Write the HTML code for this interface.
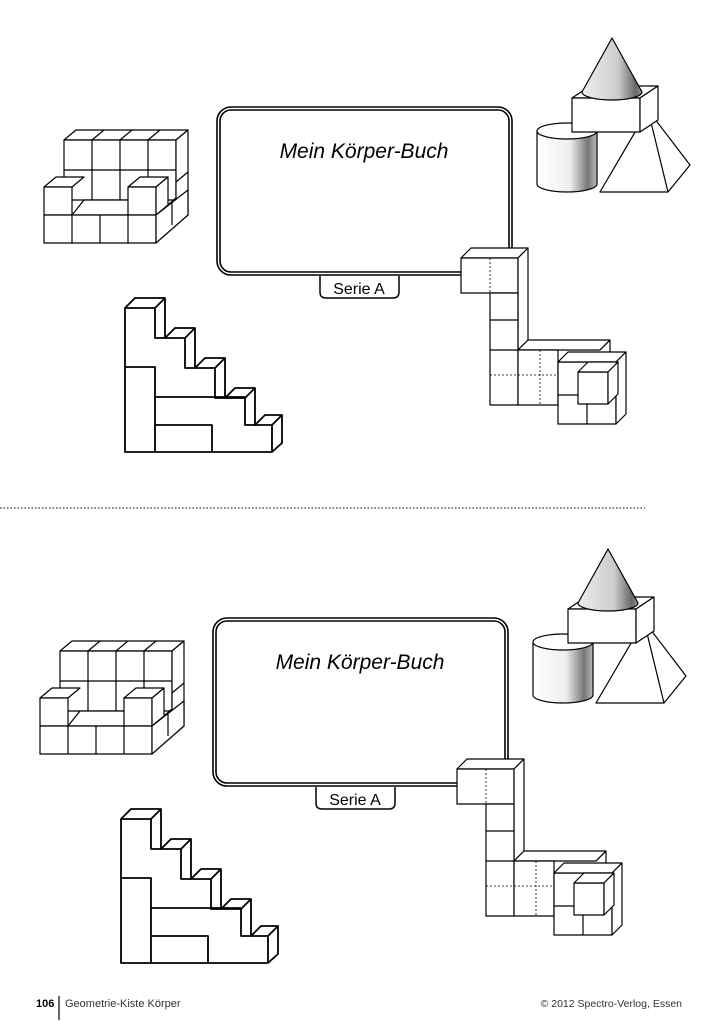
<!DOCTYPE html>
<html><head><meta charset="utf-8"><style>
html,body{margin:0;padding:0;background:#fff;width:720px;height:1021px;overflow:hidden}
svg{display:block}
</style></head><body>
<svg width="720" height="1021" viewBox="0 0 720 1021" xmlns="http://www.w3.org/2000/svg" font-family="Liberation Sans, sans-serif">
<defs>
<linearGradient id="cyl" x1="0" x2="1" y1="0" y2="0">
<stop offset="0" stop-color="#fff"/><stop offset="0.55" stop-color="#eee"/><stop offset="0.85" stop-color="#777"/><stop offset="1" stop-color="#bbb"/>
</linearGradient>
<linearGradient id="cone" x1="0" x2="1" y1="0" y2="0">
<stop offset="0" stop-color="#eee"/><stop offset="0.6" stop-color="#ccc"/><stop offset="0.9" stop-color="#666"/><stop offset="1" stop-color="#999"/>
</linearGradient>
<g id="half" fill="#fff" stroke="#000" stroke-width="1.2" stroke-linejoin="round">
<!-- frame -->
<rect x="217" y="107" width="295" height="168" rx="14" stroke-width="1.6"/>
<rect x="220" y="110" width="289" height="162" rx="11" stroke-width="1.6"/>
<path d="M320 276 V292 Q320 298 326 298 H393 Q399 298 399 292 V276" stroke-width="1.5"/>
<!-- armchair -->
<polygon points="64,140 176,140 188,130 76,130"/>
<path d="M92,140 L104,130 M120,140 L132,130 M148,140 L160,130" fill="none"/>
<rect x="64" y="140" width="112" height="60"/>
<path d="M92,140 V200 M120,140 V200 M148,140 V200 M64,170 H176" fill="none"/>
<polygon points="176,140 188,130 188,215 176,225"/>
<path d="M176,182 L188,172" fill="none"/>
<polygon points="72,215 128,215 140,200 84,200"/>
<polygon points="44,187 72,187 84,177 56,177"/>
<polygon points="128,187 156,187 168,177 140,177"/>
<rect x="44" y="187" width="28" height="28"/>
<rect x="128" y="187" width="28" height="28"/>
<rect x="44" y="215" width="112" height="28"/>
<path d="M72,215 V243 M100,215 V243 M128,215 V243" fill="none"/>
<polygon points="156,187 168,177 168,205 156,215"/>
<polygon points="156,215 188,190 188,215 156,243"/>
<path d="M168,205 L176,198 M172,225 V202" fill="none"/>
<!-- staircase -->
<g stroke-width="1.8">
<path d="M125,308 L135,298 H165 V338 L175,328 H195 V368 L205,358 H225 V398 L235,388 H255 V425 L265,415 H282 V443 L272,452 H125 Z"/>
<path d="M125,308 H155 L165,298 M155,308 V338 H185 L195,328 M185,338 V368 H215 L225,358 M215,368 V398 H245 L255,388 M245,398 V425 H272 L282,415 M272,425 V452" fill="none"/>
<path d="M125,367 H155 V452 M155,397 H245 M155,425 H212 V452" fill="none"/>
</g>
<!-- L-shape blocks -->
<polygon points="461,258 471,248 528,248 518,258"/>
<rect x="461" y="258" width="57" height="35"/>
<polygon points="518,258 528,248 528,340 518,350"/>
<rect x="490" y="293" width="28" height="112"/>
<path d="M490,320 H518 M490,350 H518" fill="none"/>
<path d="M490,258 V293 M490,375 H518" fill="none" stroke-dasharray="2,2" stroke-width="0.8"/>
<polygon points="518,350 528,340 610,340 600,350"/>
<rect x="518" y="350" width="40" height="55"/>
<path d="M518,375 H558 M540,350 V405" fill="none" stroke-dasharray="2,2" stroke-width="0.8"/>
<rect x="558" y="362" width="58" height="62"/>
<polygon points="558,362 568,352 626,352 616,362"/>
<polygon points="616,362 626,352 626,414 616,424"/>
<rect x="578" y="372" width="30" height="32"/>
<polygon points="578,372 588,362 618,362 608,372"/>
<polygon points="608,372 618,362 618,394 608,404"/>
<path d="M558,395 H578 M587,404 V424 M600,350 L610,340 V352" fill="none"/>
<!-- cylinder -->
<path d="M537,131 V184 A30,8 0 0 0 597,184 V131 Z" fill="url(#cyl)"/>
<ellipse cx="567" cy="131" rx="30" ry="8"/>
<!-- pyramid -->
<polygon points="600,192 668,192 690,165 648,110"/>
<path d="M648,110 L668,192" fill="none"/>
<!-- box -->
<polygon points="572,98 590,86 658,86 640,98"/>
<rect x="572" y="98" width="68" height="34"/>
<polygon points="640,98 658,86 658,120 640,132"/>
<!-- cone -->
<path d="M612,38 L582,92 A30,8 0 0 0 642,92 Z" fill="url(#cone)"/>
</g>
</defs>
<use href="#half"/>
<use href="#half" transform="translate(-4,511)"/>
<text x="364" y="158" font-size="21" font-style="italic" text-anchor="middle" font-family="Liberation Sans Narrow, Liberation Sans, sans-serif">Mein Körper-Buch</text>
<text x="359" y="294" font-size="16" text-anchor="middle">Serie A</text>
<text x="360" y="669" font-size="21" font-style="italic" text-anchor="middle" font-family="Liberation Sans Narrow, Liberation Sans, sans-serif">Mein Körper-Buch</text>
<text x="355" y="805" font-size="16" text-anchor="middle">Serie A</text>
<line x1="0" y1="508" x2="645" y2="508" stroke="#000" stroke-width="1" stroke-dasharray="1.5,2"/>
<text x="36" y="1007" font-size="11" font-weight="bold">106</text>
<line x1="59" y1="996" x2="59" y2="1020" stroke="#000" stroke-width="1.2"/>
<text x="65" y="1007" font-size="11" fill="#333">Geometrie-Kiste Körper</text>
<text x="682" y="1007" font-size="10.5" fill="#333" text-anchor="end">© 2012 Spectro-Verlog, Essen</text>
</svg>
</body></html>
